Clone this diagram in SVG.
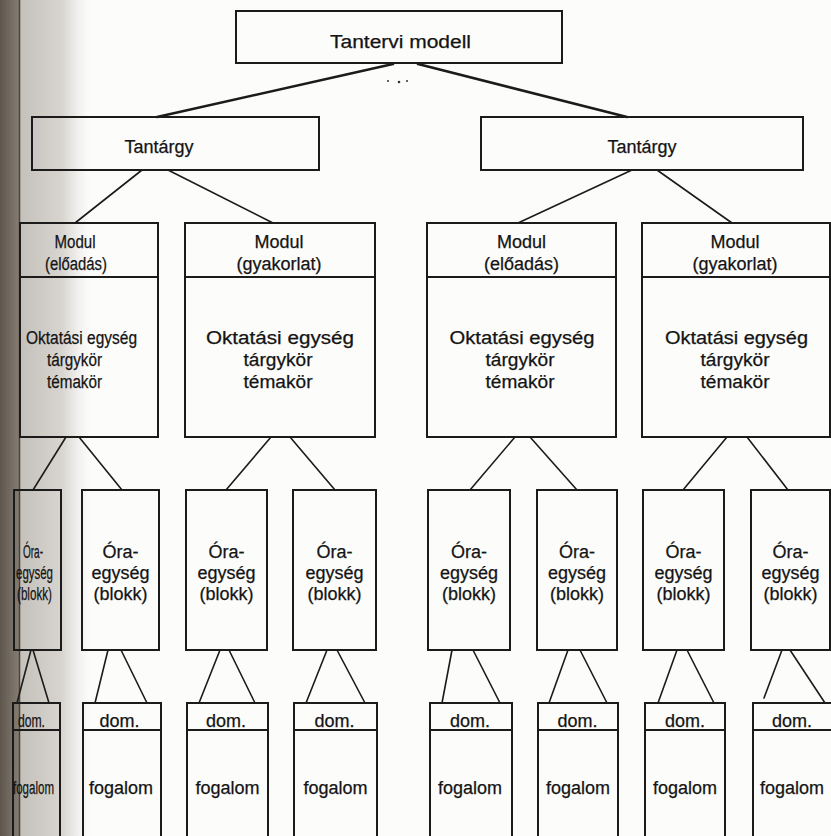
<svg xmlns="http://www.w3.org/2000/svg" width="831" height="836" viewBox="0 0 831 836">
  <defs>
    <linearGradient id="spine" x1="0" y1="0" x2="1" y2="0">
      <stop offset="0" stop-color="#5e554c"/>
      <stop offset="1" stop-color="#857c72"/>
    </linearGradient>
    <linearGradient id="shade" x1="0" y1="0" x2="1" y2="0">
      <stop offset="0" stop-color="#c4c0ba"/>
      <stop offset="0.6" stop-color="#d8d5d0"/>
      <stop offset="0.85" stop-color="#f3f2f0"/>
      <stop offset="1" stop-color="#fcfcfb"/>
    </linearGradient>
    <style>
      .box { fill: none; stroke: #1b1b1b; stroke-width: 2; }
      .div { stroke: #1b1b1b; stroke-width: 2; }
      .c line { stroke: #1b1b1b; stroke-width: 1.6; stroke-linecap: round; }
      .c .top { stroke-width: 2.6; }
      text { font-family: "Liberation Sans", Arial, Helvetica, sans-serif; font-size: 18px; fill: #141414; stroke: #141414; stroke-width: 0.25; text-anchor: middle; }
    </style>
  </defs>

  <!-- page and binding shadow -->
  <rect x="0" y="0" width="831" height="836" fill="#fcfcfb"/>
  <rect x="20" y="0" width="70" height="836" fill="url(#shade)"/>
  <rect x="0" y="0" width="19" height="836" fill="url(#spine)"/>
  <line x1="19.5" y1="0" x2="19.5" y2="836" stroke="#4a433c" stroke-width="1.5"/>

  <!-- connectors -->
  <g id="connectors" class="c">
    <line class="top" x1="393" y1="64" x2="157" y2="117"/>
    <line class="top" x1="418" y1="64" x2="627" y2="117"/>

    <line x1="142" y1="170" x2="75" y2="223"/>
    <line x1="168" y1="170" x2="273" y2="223"/>
    <line x1="632" y1="170" x2="518" y2="223"/>
    <line x1="657" y1="170" x2="732" y2="223"/>

    <line x1="66" y1="437" x2="33" y2="490"/>
    <line x1="79" y1="437" x2="122" y2="490"/>
    <line x1="271" y1="437" x2="226" y2="490"/>
    <line x1="290" y1="437" x2="335" y2="490"/>
    <line x1="515" y1="437" x2="470" y2="490"/>
    <line x1="530" y1="437" x2="577" y2="490"/>
    <line x1="727" y1="437" x2="683" y2="490"/>
    <line x1="747" y1="437" x2="788" y2="490"/>

    <line x1="31" y1="650" x2="17" y2="703"/>
    <line x1="33" y1="650" x2="49" y2="703"/>
    <line x1="108" y1="650" x2="95" y2="703"/>
    <line x1="121" y1="650" x2="147" y2="703"/>
    <line x1="220" y1="650" x2="199" y2="703"/>
    <line x1="229" y1="650" x2="255" y2="703"/>
    <line x1="327" y1="650" x2="306" y2="703"/>
    <line x1="337" y1="650" x2="365" y2="703"/>
    <line x1="452" y1="650" x2="442" y2="703"/>
    <line x1="473" y1="650" x2="500" y2="703"/>
    <line x1="568" y1="650" x2="549" y2="703"/>
    <line x1="580" y1="650" x2="607" y2="703"/>
    <line x1="677" y1="650" x2="658" y2="703"/>
    <line x1="687" y1="650" x2="714" y2="703"/>
    <line x1="782" y1="650" x2="764" y2="698"/>
    <line x1="790" y1="650" x2="825" y2="703"/>
  </g>

  <!-- root -->
  <g id="tantervi-modell">
    <rect class="box" x="236" y="11" width="326" height="52"/>
    <text x="400.5" y="48" textLength="141" lengthAdjust="spacingAndGlyphs">Tantervi  modell</text>
    <circle cx="388" cy="81" r="1" fill="#333"/>
    <circle cx="399" cy="82" r="1.3" fill="#333"/>
    <circle cx="407" cy="81" r="1" fill="#333"/>
  </g>

  <!-- subjects -->
  <g id="tantargy-1">
    <rect class="box" x="32" y="117" width="287" height="53"/>
    <text x="159" y="153">Tantárgy</text>
  </g>
  <g id="tantargy-2">
    <rect class="box" x="481" y="117" width="322" height="53"/>
    <text x="642" y="153">Tantárgy</text>
  </g>

  <!-- modules -->
  <g id="modul-1">
    <rect class="box" x="20" y="223" width="138" height="214"/>
    <line class="div" x1="20" y1="277" x2="158" y2="277"/>
    <text x="75" y="248" textLength="41" lengthAdjust="spacingAndGlyphs">Modul</text>
    <text x="76" y="270" textLength="62" lengthAdjust="spacingAndGlyphs">(előadás)</text>
    <text x="81.5" y="344" textLength="111" lengthAdjust="spacingAndGlyphs">Oktatási  egység</text>
    <text x="74.5" y="366" textLength="55" lengthAdjust="spacingAndGlyphs">tárgykör</text>
    <text x="74.5" y="388" textLength="55" lengthAdjust="spacingAndGlyphs">témakör</text>
  </g>
  <g id="modul-2">
    <rect class="box" x="185" y="223" width="190" height="214"/>
    <line class="div" x1="185" y1="277" x2="375" y2="277"/>
    <text x="279" y="248">Modul</text>
    <text x="279" y="270">(gyakorlat)</text>
    <text x="280" y="344" textLength="148" lengthAdjust="spacingAndGlyphs">Oktatási  egység</text>
    <text x="278" y="366" textLength="69" lengthAdjust="spacingAndGlyphs">tárgykör</text>
    <text x="278" y="388" textLength="69" lengthAdjust="spacingAndGlyphs">témakör</text>
  </g>
  <g id="modul-3">
    <rect class="box" x="427" y="223" width="189" height="214"/>
    <line class="div" x1="427" y1="277" x2="616" y2="277"/>
    <text x="521.5" y="248">Modul</text>
    <text x="521.5" y="270">(előadás)</text>
    <text x="522" y="344" textLength="145" lengthAdjust="spacingAndGlyphs">Oktatási  egység</text>
    <text x="520" y="366" textLength="69" lengthAdjust="spacingAndGlyphs">tárgykör</text>
    <text x="520" y="388" textLength="69" lengthAdjust="spacingAndGlyphs">témakör</text>
  </g>
  <g id="modul-4">
    <rect class="box" x="642" y="223" width="188" height="214"/>
    <line class="div" x1="642" y1="277" x2="830" y2="277"/>
    <text x="735" y="248">Modul</text>
    <text x="735" y="270">(gyakorlat)</text>
    <text x="736.5" y="344" textLength="143" lengthAdjust="spacingAndGlyphs">Oktatási  egység</text>
    <text x="735" y="366" textLength="69" lengthAdjust="spacingAndGlyphs">tárgykör</text>
    <text x="735" y="388" textLength="69" lengthAdjust="spacingAndGlyphs">témakör</text>
  </g>

  <!-- lesson units -->
  <g id="oraegyseg-1">
    <rect class="box" x="14" y="490" width="47" height="160"/>
    <text x="33" y="558" textLength="20" lengthAdjust="spacingAndGlyphs">Óra-</text>
    <text x="34.5" y="579" textLength="37" lengthAdjust="spacingAndGlyphs">egység</text>
    <text x="34.5" y="600" textLength="35" lengthAdjust="spacingAndGlyphs">(blokk)</text>
  </g>
  <g id="oraegyseg-2">
    <rect class="box" x="82" y="490" width="77" height="160"/>
    <text x="120.5" y="558">Óra-</text>
    <text x="120.5" y="579">egység</text>
    <text x="120.5" y="600">(blokk)</text>
  </g>
  <g id="oraegyseg-3">
    <rect class="box" x="186" y="490" width="81" height="160"/>
    <text x="226.5" y="558">Óra-</text>
    <text x="226.5" y="579">egység</text>
    <text x="226.5" y="600">(blokk)</text>
  </g>
  <g id="oraegyseg-4">
    <rect class="box" x="293" y="490" width="83" height="160"/>
    <text x="334.5" y="558">Óra-</text>
    <text x="334.5" y="579">egység</text>
    <text x="334.5" y="600">(blokk)</text>
  </g>
  <g id="oraegyseg-5">
    <rect class="box" x="428" y="490" width="82" height="160"/>
    <text x="469" y="558">Óra-</text>
    <text x="469" y="579">egység</text>
    <text x="469" y="600">(blokk)</text>
  </g>
  <g id="oraegyseg-6">
    <rect class="box" x="537" y="490" width="80" height="160"/>
    <text x="577" y="558">Óra-</text>
    <text x="577" y="579">egység</text>
    <text x="577" y="600">(blokk)</text>
  </g>
  <g id="oraegyseg-7">
    <rect class="box" x="643" y="490" width="81" height="160"/>
    <text x="683.5" y="558">Óra-</text>
    <text x="683.5" y="579">egység</text>
    <text x="683.5" y="600">(blokk)</text>
  </g>
  <g id="oraegyseg-8">
    <rect class="box" x="751" y="490" width="79" height="160"/>
    <text x="790.5" y="558">Óra-</text>
    <text x="790.5" y="579">egység</text>
    <text x="790.5" y="600">(blokk)</text>
  </g>

  <!-- domains / concepts (run off the bottom edge) -->
  <g id="fogalom-1">
    <rect class="box" x="13" y="703" width="47" height="150"/>
    <line class="div" x1="13" y1="730" x2="60" y2="730"/>
    <text x="31.5" y="727" textLength="27" lengthAdjust="spacingAndGlyphs">dom.</text>
    <text x="33.5" y="794" textLength="41" lengthAdjust="spacingAndGlyphs">fogalom</text>
  </g>
  <g id="fogalom-2">
    <rect class="box" x="83" y="703" width="78" height="150"/>
    <line class="div" x1="83" y1="730" x2="161" y2="730"/>
    <text x="119.5" y="727">dom.</text>
    <text x="121" y="794">fogalom</text>
  </g>
  <g id="fogalom-3">
    <rect class="box" x="187" y="703" width="81" height="150"/>
    <line class="div" x1="187" y1="730" x2="268" y2="730"/>
    <text x="226" y="727">dom.</text>
    <text x="227.5" y="794">fogalom</text>
  </g>
  <g id="fogalom-4">
    <rect class="box" x="294" y="703" width="83" height="150"/>
    <line class="div" x1="294" y1="730" x2="377" y2="730"/>
    <text x="334.5" y="727">dom.</text>
    <text x="335.5" y="794">fogalom</text>
  </g>
  <g id="fogalom-5">
    <rect class="box" x="430" y="703" width="82" height="150"/>
    <line class="div" x1="430" y1="730" x2="512" y2="730"/>
    <text x="470" y="727">dom.</text>
    <text x="470" y="794">fogalom</text>
  </g>
  <g id="fogalom-6">
    <rect class="box" x="538" y="703" width="80" height="150"/>
    <line class="div" x1="538" y1="730" x2="618" y2="730"/>
    <text x="577.5" y="727">dom.</text>
    <text x="578" y="794">fogalom</text>
  </g>
  <g id="fogalom-7">
    <rect class="box" x="645" y="703" width="80" height="150"/>
    <line class="div" x1="645" y1="730" x2="725" y2="730"/>
    <text x="685" y="727">dom.</text>
    <text x="685" y="794">fogalom</text>
  </g>
  <g id="fogalom-8">
    <rect class="box" x="753" y="703" width="90" height="150"/>
    <line class="div" x1="753" y1="730" x2="843" y2="730"/>
    <text x="792" y="727">dom.</text>
    <text x="792" y="794">fogalom</text>
  </g>
</svg>
